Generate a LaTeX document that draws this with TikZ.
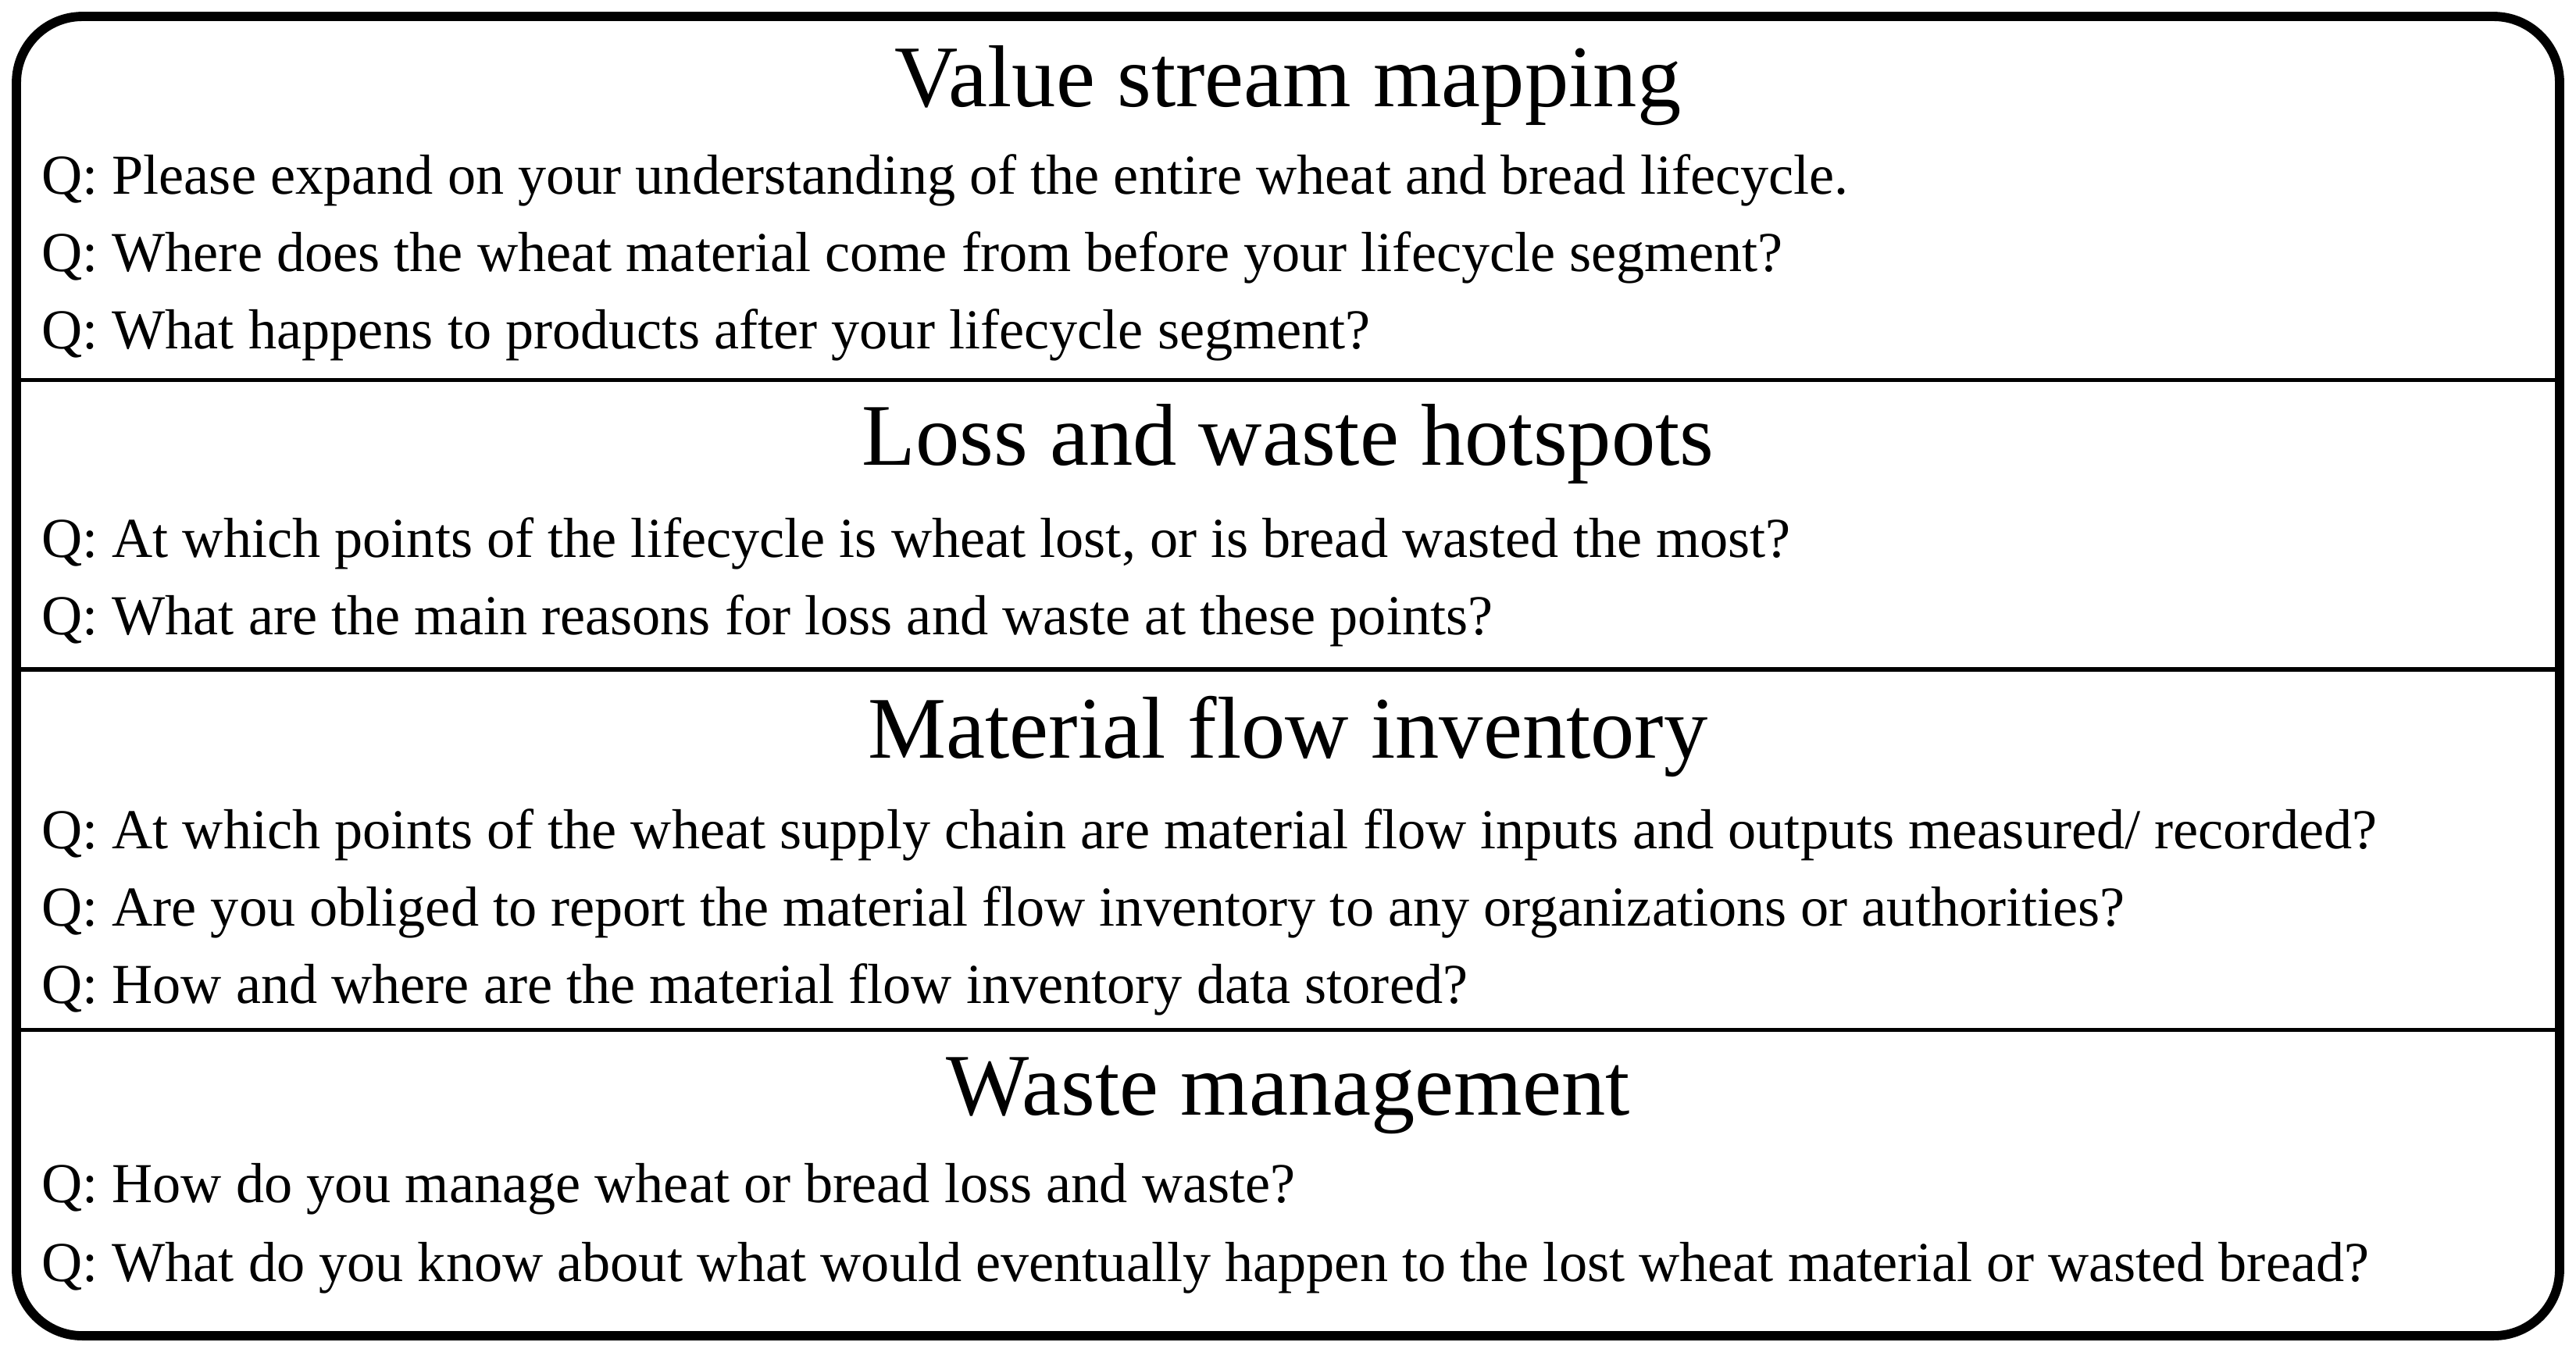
\documentclass[tikz,border=0pt]{standalone}
\usepackage{fontspec}
\setmainfont{Liberation Serif}
\begin{document}
\begin{tikzpicture}[x=0.025cm,y=-0.025cm,
 title/.style={anchor=base,font=\fontsize{38}{42}\selectfont,inner sep=0},
 q/.style={anchor=base west,font=\fontsize{24.4}{28}\selectfont,inner sep=0}]
\useasboundingbox (0,0) rectangle (1566,820);
\draw[line width=4pt,rounded corners=1cm] (10,10) rectangle (1556,812);
\foreach \y in {231,407,626} \draw[line width=1.8pt] (12,\y) -- (1554,\y);
\node[title] (t1) at (783,65) {Value stream mapping};
\node[q] (a1) at (25,118) {Q: Please expand on your understanding of the entire wheat and bread lifecycle.};
\node[q] (a2) at (25,165) {Q: Where does the wheat material come from before your lifecycle segment?};
\node[q] (a3) at (25,212) {Q: What happens to products after your lifecycle segment?};
\node[title] (t2) at (783,283) {Loss and waste hotspots};
\node[q] (b1) at (25,339) {Q: At which points of the lifecycle is wheat lost, or is bread wasted the most?};
\node[q] (b2) at (25,386) {Q: What are the main reasons for loss and waste at these points?};
\node[title] (t3) at (783,461) {Material flow inventory};
\node[q] (c1) at (25,516) {Q: At which points of the wheat supply chain are material flow inputs and outputs measured/ recorded?};
\node[q] (c2) at (25,563) {Q: Are you obliged to report the material flow inventory to any organizations or authorities?};
\node[q] (c3) at (25,610) {Q: How and where are the material flow inventory data stored?};
\node[title] (t4) at (783,678) {Waste management};
\node[q] (d1) at (25,731) {Q: How do you manage wheat or bread loss and waste?};
\node[q] (d2) at (25,779) {Q: What do you know about what would eventually happen to the lost wheat material or wasted bread?};
\end{tikzpicture}
\end{document}
